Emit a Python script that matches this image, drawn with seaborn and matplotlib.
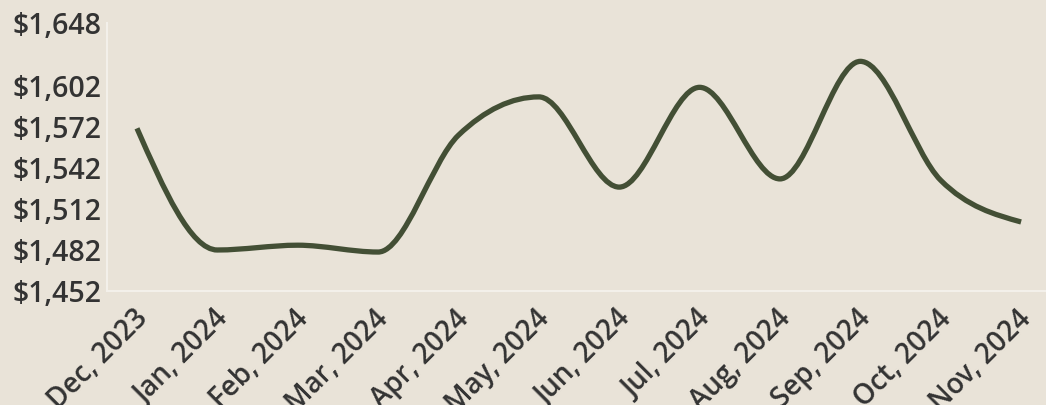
import numpy as np
import matplotlib
matplotlib.use("Agg")
import matplotlib.pyplot as plt
import matplotlib.transforms as mtransforms
from matplotlib.path import Path
from matplotlib.patches import PathPatch
import seaborn as sns

months = ["Dec, 2023", "Jan, 2024", "Feb, 2024", "Mar, 2024", "Apr, 2024", "May, 2024",
          "Jun, 2024", "Jul, 2024", "Aug, 2024", "Sep, 2024", "Oct, 2024", "Nov, 2024"]
price = [1571, 1482, 1485.5, 1480.5, 1566, 1594, 1528, 1601, 1534, 1620, 1533, 1502.5]
y_ticks = [1452, 1482, 1512, 1542, 1572, 1602, 1648]

BG = "#e9e3d8"
LINE = "#434f35"
TEXT = "#333333"
SPINE = "#f3f0ea"


def monotone_path(xs, ys):
    # cubic bezier segments with monotone-x tangents (like d3.curveMonotoneX)
    xs = np.asarray(xs, float)
    ys = np.asarray(ys, float)
    n = len(xs)
    h = np.diff(xs)
    s = np.diff(ys) / h
    t = np.zeros(n)
    for i in range(1, n - 1):
        p = (s[i - 1] * h[i] + s[i] * h[i - 1]) / (h[i - 1] + h[i])
        t[i] = (np.sign(s[i - 1]) + np.sign(s[i])) * min(abs(s[i - 1]), abs(s[i]), 0.5 * abs(p))
    t[0] = (3 * s[0] - t[1]) / 2
    t[-1] = (3 * s[-1] - t[-2]) / 2
    verts = [(xs[0], ys[0])]
    codes = [Path.MOVETO]
    for i in range(n - 1):
        dx = h[i] / 3
        verts += [(xs[i] + dx, ys[i] + dx * t[i]),
                  (xs[i + 1] - dx, ys[i + 1] - dx * t[i + 1]),
                  (xs[i + 1], ys[i + 1])]
        codes += [Path.CURVE4] * 3
    return Path(verts, codes)


sns.set_theme(style="white")
plt.rcParams["font.family"] = ["Open Sans", "DejaVu Sans"]
plt.rcParams["font.weight"] = "semibold"

fig = plt.figure(figsize=(10.46, 4.05), dpi=100, facecolor=BG)
ax = fig.add_axes([0.1023, 0.2815, 0.8977, 0.6615])
ax.set_facecolor(BG)

x = np.arange(len(months))
ax.add_patch(PathPatch(monotone_path(x, price), facecolor="none", edgecolor=LINE,
                       lw=3.8, capstyle="butt", joinstyle="round"))

ax.set_xlim(-0.373, 11.31)
ax.set_ylim(1452, 1648)
ax.set_xticks(x)
ax.set_xticklabels(months, rotation=45, ha="right", rotation_mode="anchor")
ax.set_yticks(y_ticks)
ax.set_yticklabels([f"${v:,}" for v in y_ticks])
ax.tick_params(axis="both", length=0, labelcolor=TEXT)
ax.tick_params(axis="y", pad=4, labelsize=20.5)
ax.tick_params(axis="x", pad=8, labelsize=20)

# nudge the rotated month labels a little down and left
shift = mtransforms.ScaledTranslation(-4 / 100, -2 / 100, fig.dpi_scale_trans)
for lab in ax.get_xticklabels():
    lab.set_transform(lab.get_transform() + shift)

sns.despine(ax=ax, top=True, right=True)
for side in ("left", "bottom"):
    ax.spines[side].set_color(SPINE)
    ax.spines[side].set_linewidth(1.5)
ax.grid(False)

fig.savefig("out.png", dpi=100, facecolor=BG)
